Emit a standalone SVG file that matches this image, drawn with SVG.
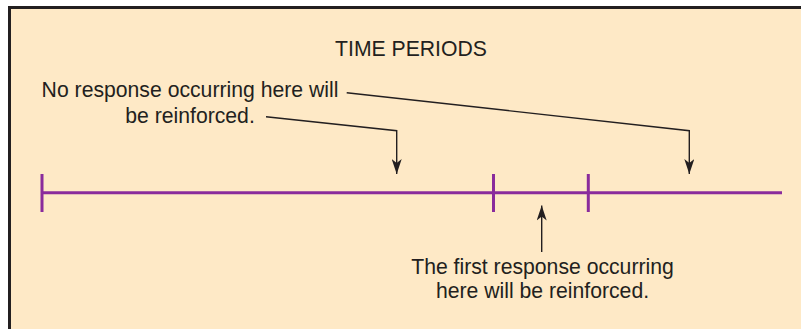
<svg xmlns="http://www.w3.org/2000/svg" width="801" height="329" viewBox="0 0 801 329">
<defs>
<style>
.lbl{font-family:"Liberation Sans",Arial,sans-serif;font-size:21.2px;fill:#231f20;text-anchor:middle}
.ptr{fill:none;stroke:#231f20;stroke-width:1.4}
.tl{stroke:#8a2b9c;stroke-width:3;fill:none;stroke-linecap:butt}
</style>
<marker id="ah2" viewBox="0 0 15 10" refX="15" refY="5" markerWidth="15" markerHeight="10" markerUnits="userSpaceOnUse" orient="auto">
<path d="M0,0 L15,5 L0,10 L4,5 Z" fill="#231f20"/>
</marker>
</defs>
<rect x="0" y="0" width="801" height="329" fill="#ffffff"/>
<rect id="frame" x="9.5" y="7.5" width="800" height="330" fill="#fee9c6" stroke="#231f20" stroke-width="3"/>
<g id="timeline">
<line class="tl" x1="42" y1="192.7" x2="782" y2="192.7"/>
<line class="tl" x1="42" y1="174" x2="42" y2="212"/>
<line class="tl" x1="493.5" y1="174" x2="493.5" y2="212"/>
<line class="tl" x1="588.3" y1="174" x2="588.3" y2="212"/>
</g>
<g id="title"><text class="lbl" x="411" y="56">TIME PERIODS</text></g>
<g id="no-response">
<text class="lbl" x="190" y="97">No response occurring here will</text>
<text class="lbl" x="190" y="123">be reinforced.</text>
</g>
<g id="first-response">
<text class="lbl" x="542.5" y="274">The first response occurring</text>
<text class="lbl" x="542.5" y="298">here will be reinforced.</text>
</g>
<g id="connectors">
<path class="ptr" d="M266,116.7 L396.7,130.7 L396.7,174" marker-end="url(#ah2)"/>
<path class="ptr" d="M346.7,92.7 L689.3,130.7 L689.3,174" marker-end="url(#ah2)"/>
<path class="ptr" d="M541.7,252 L541.7,205.5" marker-end="url(#ah2)"/>
</g>
</svg>
